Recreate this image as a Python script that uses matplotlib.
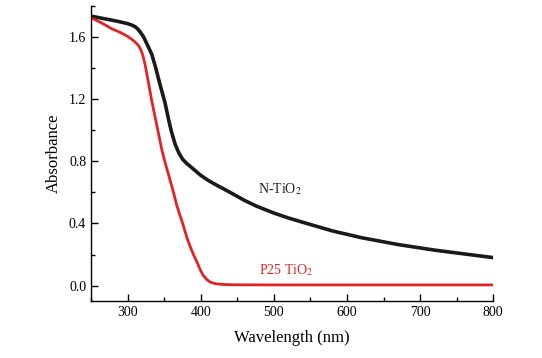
import matplotlib.pyplot as plt
from matplotlib.ticker import MultipleLocator

plt.rcParams['font.family'] = ['Liberation Serif', 'DejaVu Serif']
plt.rcParams['mathtext.fontset'] = 'stix'

# N-TiO2 absorbance
n_wl = [250, 260, 270, 280, 290, 300, 305, 310, 314, 318, 322, 327, 333, 338, 344, 351,
        356, 360, 365, 370, 375, 380, 385, 392, 400, 410, 420, 430, 444, 460, 476,
        500, 520, 545, 580, 620, 670, 720, 760, 800]
n_abs = [1.735, 1.726, 1.717, 1.708, 1.698, 1.687, 1.679, 1.668, 1.652, 1.628, 1.60, 1.55,
         1.49, 1.41, 1.30, 1.18, 1.07, 0.99, 0.91, 0.855, 0.815, 0.79, 0.77, 0.742,
         0.71, 0.678, 0.651, 0.626, 0.59, 0.548, 0.512, 0.467, 0.435, 0.40, 0.352,
         0.308, 0.264, 0.228, 0.204, 0.18]

# P25 TiO2 absorbance
p_wl = [250, 265, 278, 290, 300, 306, 311, 315, 318, 321, 324, 328, 333, 340, 347, 352,
        358, 363, 367, 371, 375, 381, 386, 390, 395, 399, 403, 408, 413, 420, 430,
        445, 500, 600, 700, 800]
p_abs = [1.725, 1.69, 1.655, 1.63, 1.605, 1.585, 1.565, 1.545, 1.52, 1.48, 1.42, 1.32,
         1.19, 1.03, 0.87, 0.78, 0.68, 0.595, 0.52, 0.46, 0.405, 0.31, 0.245, 0.20,
         0.15, 0.105, 0.068, 0.04, 0.022, 0.012, 0.007, 0.005, 0.004, 0.004, 0.004,
         0.004]

fig = plt.figure(figsize=(5.42, 3.58), dpi=100)
ax = fig.add_axes([0.168, 0.159, 0.742, 0.824])

ax.plot(n_wl, n_abs, color='#1a1a1a', lw=2.6)
ax.plot(p_wl, p_abs, color='#e02424', lw=2.0)

ax.text(478, 0.62, r'N-TiO$_2$', fontsize=10, color='#222222', va='center', ha='left')
ax.text(479, 0.10, r'P25 TiO$_2$', fontsize=10, color='#e02424', va='center', ha='left')

ax.set_xlim(250, 800)
ax.set_ylim(-0.1, 1.8)
ax.xaxis.set_major_locator(MultipleLocator(100))
ax.xaxis.set_minor_locator(MultipleLocator(50))
ax.yaxis.set_major_locator(MultipleLocator(0.4))
ax.yaxis.set_minor_locator(MultipleLocator(0.2))
ax.yaxis.set_major_formatter(plt.FuncFormatter(lambda v, p: f'{v:.1f}'))

ax.spines['top'].set_visible(False)
ax.spines['right'].set_visible(False)
for s in ['left', 'bottom']:
    ax.spines[s].set_linewidth(1.0)

ax.tick_params(which='both', direction='in', labelsize=10, width=1.0)
ax.tick_params(which='major', length=5)
ax.tick_params(which='minor', length=3)

ax.set_xlabel('Wavelength (nm)', fontsize=12, labelpad=8)
ax.set_ylabel('Absorbance', fontsize=12, labelpad=5)

fig.savefig('out.png', dpi=100)
